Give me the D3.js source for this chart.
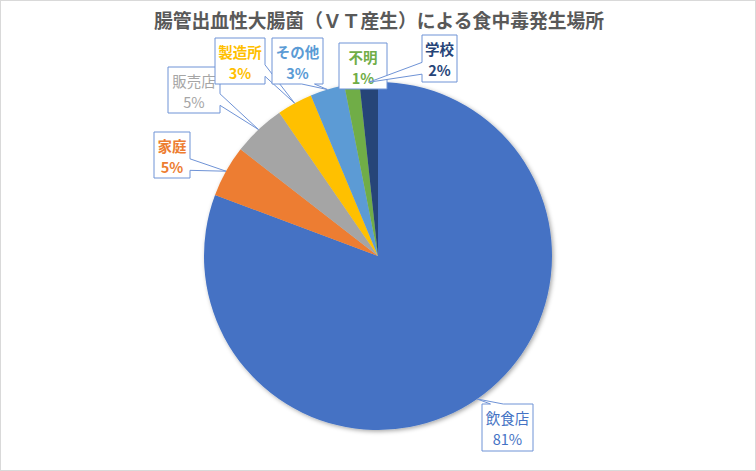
<!DOCTYPE html>
<html><head><meta charset="utf-8">
<script src="https://cdn.jsdelivr.net/npm/d3@7"></script>
<style>html,body{margin:0;padding:0;background:#fff}svg{display:block}</style>
</head><body>
<svg id="c" width="756" height="471"></svg>
<script>
// ---- data ----
const title = "腸管出血性大腸菌（ＶＴ産生）による食中毒発生場所";
const categories = ["飲食店","家庭","販売店","製造所","その他","不明","学校"];
const values = [80.7, 4.8, 4.9, 3.3, 3.2, 1.4, 1.7];
const colors = ["#4472C4","#ED7D31","#A5A5A5","#FFC000","#5B9BD5","#70AD47","#264478"];
const boldLabel = [false,true,false,true,true,true,true];
// label box layout [left, top, width, height]
const labelBoxes = [[482,404,51,47],[154,132,36,46],[168,67,52,46],[215,38,50,46],[272,38,51,46],[339,43,48,46],[422,35,35,47]];

const W=756,H=471, cx=378, cy=256, R=174;
const svg=d3.select("#c");
const FONT='"Noto Sans CJK JP","Noto Sans",sans-serif';

svg.append("rect").attr("x",0.5).attr("y",0.5).attr("width",W-1).attr("height",H-1)
  .attr("fill","#fff").attr("stroke","#d9d9d9").attr("stroke-width",1);

const defs=svg.append("defs");
const f=defs.append("filter").attr("id","sh").attr("x","-20%").attr("y","-20%").attr("width","140%").attr("height","140%");
f.append("feDropShadow").attr("dx",1.5).attr("dy",1.5).attr("stdDeviation",2.2).attr("flood-color","#000").attr("flood-opacity",0.35);

svg.append("text").attr("x",379).attr("y",28).attr("text-anchor","middle")
  .attr("font-family",FONT).attr("font-weight","bold").attr("font-size",18.8)
  .attr("fill","#595959").text(title);

const data=categories.map((c,i)=>({c,v:values[i],i}));
const pie=d3.pie().sort(null).value(d=>d.v);
const arcs=pie(data);
const arc=d3.arc().innerRadius(0).outerRadius(R);
const rim=d3.arc().innerRadius(R).outerRadius(R);

const g=svg.append("g").attr("transform",`translate(${cx},${cy})`);
const pg=g.append("g").attr("filter","url(#sh)");
pg.selectAll("path").data(arcs).join("path").attr("d",arc).attr("fill",d=>colors[d.data.i]);

const total=d3.sum(values);
const fmt=v=>Math.round(v/total*100)+"%";

function calloutPath(w,h,tx,ty){
  if(tx>=0&&tx<=w&&ty>=0&&ty<=h) return `M0,0H${w}V${h}H0Z`;
  const dxPos=tx-w/2, dyPos=ty-h/2;
  const dx=dxPos*h, dy=dyPos*w;
  const x1=w*(dxPos>0?7:2)/12, x2=w*(dxPos>0?10:5)/12;
  const y1=h*(dyPos>0?7:2)/12, y2=h*(dyPos>0?10:5)/12;
  if(Math.abs(dy)>Math.abs(dx)){
    if(dyPos<0) return `M0,0L${x1},0L${tx},${ty}L${x2},0L${w},0L${w},${h}L0,${h}Z`;
    return `M0,0L${w},0L${w},${h}L${x2},${h}L${tx},${ty}L${x1},${h}L0,${h}Z`;
  } else {
    if(dxPos<0) return `M0,0L${w},0L${w},${h}L0,${h}L0,${y2}L${tx},${ty}L0,${y1}Z`;
    return `M0,0L${w},0L${w},${y1}L${tx},${ty}L${w},${y2}L${w},${h}L0,${h}Z`;
  }
}

const lg=svg.append("g");
arcs.forEach(d=>{
  const i=d.data.i;
  const [bx,by,bw,bh]=labelBoxes[i];
  const [px,py]=rim.centroid(d);
  const tx=cx+px-bx, ty=cy+py-by;
  const b=lg.append("g").attr("transform",`translate(${bx},${by})`);
  b.append("path").attr("d",calloutPath(bw,bh,tx,ty)).attr("fill","#fff")
    .attr("stroke","#6f93d6").attr("stroke-width",1).attr("stroke-linejoin","miter");
  const t=b.append("text").attr("text-anchor","middle").attr("font-family",FONT)
    .attr("font-size",14.5).attr("font-weight",boldLabel[i]?"bold":"normal").attr("fill",colors[i]);
  t.append("tspan").attr("x",bw/2).attr("y",20).text(d.data.c);
  t.append("tspan").attr("x",bw/2).attr("y",41).text(fmt(d.data.v));
});
</script>
</body></html>
